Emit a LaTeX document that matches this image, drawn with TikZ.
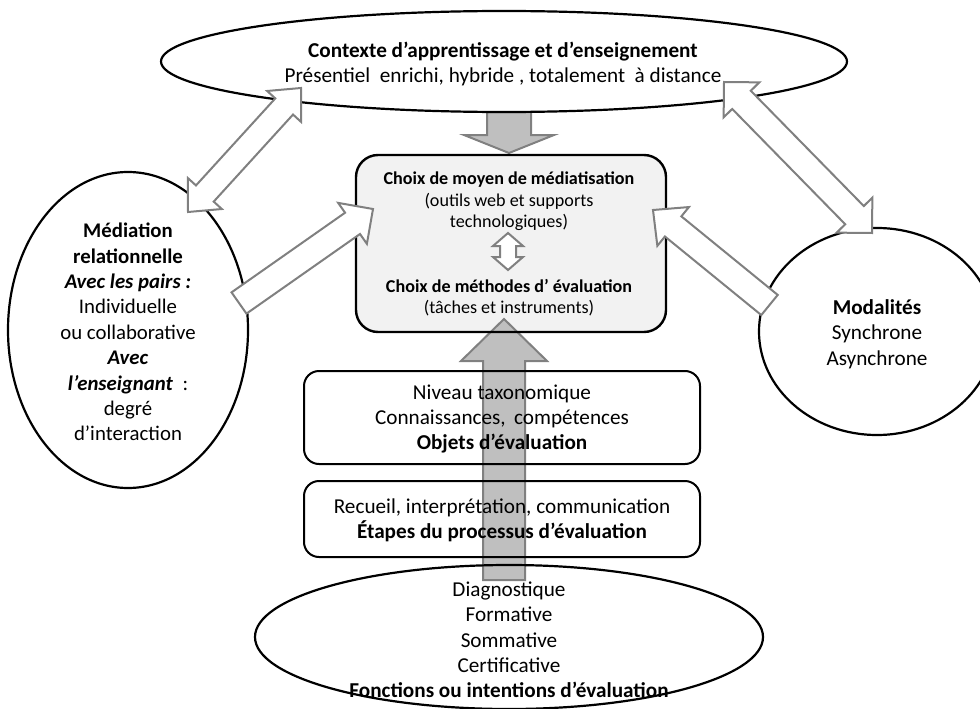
\documentclass[tikz,border=0pt]{standalone}
\usepackage{fontspec}
\setmainfont{Carlito}
\usetikzlibrary{calc,backgrounds,shapes.geometric}
\definecolor{arrowgray}{RGB}{128,128,128}
\definecolor{arrowfill}{RGB}{191,191,191}
\definecolor{boxfill}{RGB}{242,242,242}
\newcommand{\mainsize}{\fontsize{21.2}{25.3}\selectfont}
\newcommand{\medsize}{\fontsize{20.8}{25.4}\selectfont}
\newcommand{\smallsize}{\fontsize{18.1}{21.6}\selectfont}
% single block arrow: style, tail, tip, shaft half width, head half width, head length
\newcommand{\sglarrow}[6]{%
  \path ($(#3)!#6!(#2)$) coordinate (hd);
  \draw[#1] ($(#2)!#4!90:(#3)$) -- ($(hd)!#4!90:(#3)$) -- ($(hd)!#5!90:(#3)$) -- (#3)
    -- ($(hd)!#5!-90:(#3)$) -- ($(hd)!#4!-90:(#3)$) -- ($(#2)!#4!-90:(#3)$) -- cycle;}
% double block arrow: style, tip A, tip B, shaft half width, head half width, head length
\newcommand{\dblarrow}[6]{%
  \path ($(#2)!#6!(#3)$) coordinate (ha) ($(#3)!#6!(#2)$) coordinate (hb);
  \draw[#1] (#2) -- ($(ha)!#5!90:(#3)$) -- ($(ha)!#4!90:(#3)$) -- ($(hb)!#4!90:(#3)$)
    -- ($(hb)!#5!90:(#3)$) -- (#3) -- ($(hb)!#5!-90:(#3)$) -- ($(hb)!#4!-90:(#3)$)
    -- ($(ha)!#4!-90:(#3)$) -- ($(ha)!#5!-90:(#3)$) -- cycle;}
\tikzset{
  oval/.style={ellipse, draw=black, line width=2.2pt, inner sep=0pt, outer sep=0pt},
  centralbox/.style={draw=black, line width=2.4pt, rounded corners=22pt, inner sep=0pt, outer sep=0pt},
  stagebox/.style={draw=black, line width=2pt, rounded corners=15pt, inner sep=0pt, outer sep=0pt},
  txt/.style={align=center, inner sep=0pt, font=\mainsize},
  hollow/.style={draw=arrowgray, fill=white, line width=2pt, line join=miter},
  grayarrow/.style={draw=arrowgray, fill=arrowfill, line width=2pt, line join=miter}
}
\begin{document}
\begin{tikzpicture}[x=1pt,y=-1pt]
\useasboundingbox (0,0) rectangle (980,709);
% shapes
\node[oval, minimum width=686pt, minimum height=101pt] (ctx) at (504,61.5) {};
\node[oval, minimum width=240pt, minimum height=316pt] (med) at (128,330) {};
\node[oval, minimum width=236pt, minimum height=207pt] (mod) at (877,331.5) {};
\node[oval, minimum width=508pt, minimum height=144pt] (fct) at (509,637) {};
\node[centralbox, minimum width=310pt, minimum height=177pt] (choix) at (511,243.5) {};
\node[stagebox, minimum width=396pt, minimum height=93pt] (obj) at (502,417.5) {};
\node[stagebox, minimum width=396pt, minimum height=76pt] (etp) at (502,519) {};
% texts
\node[txt] (ctxt) at (503,64) {\textbf{Contexte d’apprentissage et d’enseignement}\\Présentiel\ \ enrichi, hybride , totalement\ \ à distance};
\node[txt, font=\medsize] (medt) at (128,332) {\textbf{Médiation}\\\textbf{relationnelle}\\\textbf{\textit{Avec les pairs :}}\\Individuelle\\ou collaborative\\\textbf{\textit{Avec}}\\\textbf{\textit{l’enseignant}}\ \ :\\degré\\d’interaction};
\node[txt] (modt) at (877,334) {\textbf{Modalités}\\Synchrone\\Asynchrone};
\node[txt] (fctt) at (509,640) {Diagnostique\\Formative\\Sommative\\Certificative\\\textbf{Fonctions ou intentions d’évaluation}};
\node[txt] (objt) at (502,419) {Niveau taxonomique\\Connaissances,\, compétences\\\textbf{Objets d’évaluation}};
\node[txt] (etpt) at (502,520) {Recueil, interprétation, communication\\\textbf{Étapes du processus d’évaluation}};
\node[txt, font=\smallsize] (choixt) at (509,244) {\textbf{Choix de moyen de médiatisation}\\(outils web et supports\\technologiques)\\[43pt]\textbf{Choix de méthodes d’ évaluation}\\(tâches et instruments)};
% arrow end points
\coordinate (tlA) at (188,212); \coordinate (tlB) at (301,88);
\coordinate (trA) at (724,82);  \coordinate (trB) at (872,233);
\coordinate (lbA) at (239,303); \coordinate (lbB) at (373,209);
\coordinate (rbA) at (769.5,305); \coordinate (rbB) at (653,210);
\coordinate (gdA) at (509,112); \coordinate (gdB) at (509,153);
\coordinate (guA) at (504,580); \coordinate (guB) at (504,319);
\coordinate (inA) at (508,233); \coordinate (inB) at (508,270);
% background: box fill and grey arrows
\begin{scope}[on background layer]
  \fill[white] (0,0) rectangle (980,709);
  \fill[boxfill, rounded corners=22pt] (choix.south west) rectangle (choix.north east);
  \sglarrow{grayarrow}{gdA}{gdB}{22pt}{45pt}{18pt}
  \sglarrow{grayarrow}{guA}{guB}{21pt}{43pt}{42pt}
\end{scope}
% hollow arrows
\dblarrow{hollow}{tlA}{tlB}{12pt}{23pt}{25pt}
\dblarrow{hollow}{trA}{trB}{13pt}{25pt}{25pt}
\sglarrow{hollow}{lbA}{lbB}{13pt}{25pt}{25pt}
\sglarrow{hollow}{rbA}{rbB}{13pt}{25pt}{26pt}
\dblarrow{hollow}{inA}{inB}{8pt}{15pt}{13pt}
\end{tikzpicture}
\end{document}
